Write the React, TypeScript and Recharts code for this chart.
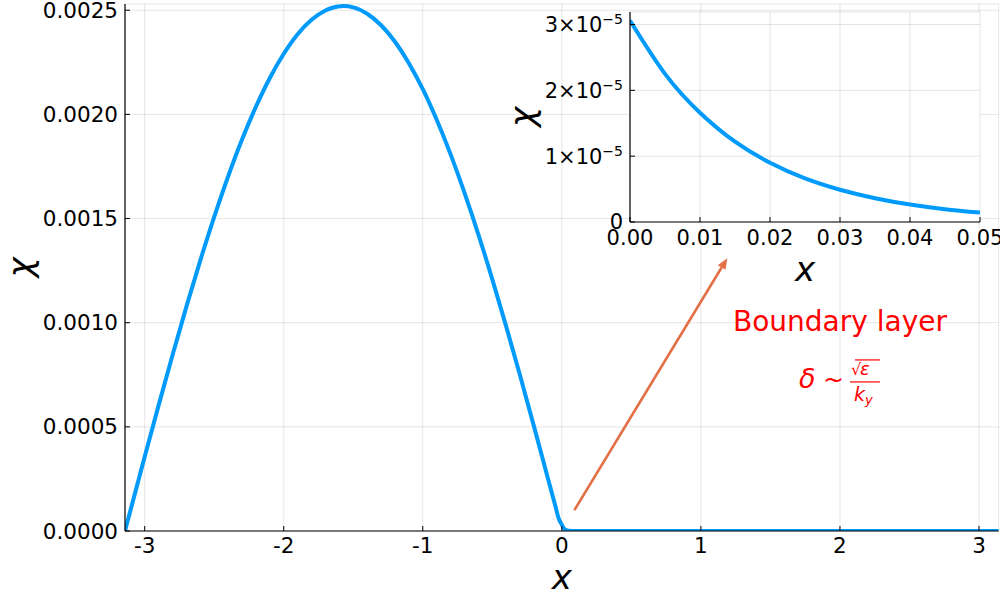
import React from 'react';
import { LineChart, Line, XAxis, YAxis, CartesianGrid, ReferenceLine, ReferenceDot, Label } from 'recharts';

// ---- main curve ----
const mainX = [-3.1416, -3.1, -3.0, -2.9, -2.8, -2.7, -2.6, -2.5, -2.4, -2.3, -2.2, -2.1, -2.0, -1.9, -1.8, -1.7, -1.65, -1.5708, -1.5, -1.4, -1.3, -1.2, -1.1, -1.0, -0.9, -0.8, -0.7, -0.6, -0.5, -0.4, -0.3, -0.2, -0.1, -0.05, -0.02, 0, 0.01, 0.02, 0.03, 0.05, 0.1, 0.5, 1.0, 1.5, 2.0, 2.5, 3.0, 3.1416];
const mainChi = [0, 0.000105, 0.000356, 0.000603, 0.000844, 0.001077, 0.001299, 0.001508, 0.001702, 0.001879, 0.002037, 0.002175, 0.002291, 0.002385, 0.002454, 0.002499, 0.002512, 0.00252, 0.002514, 0.002483, 0.002428, 0.002349, 0.002246, 0.002121, 0.001974, 0.001808, 0.001623, 0.001423, 0.001208, 0.000981, 0.000745, 0.000501, 0.000252, 0.000128, 0.000055, 0.0000305, 0.0000165, 0.0000089, 0.0000048, 0.0000014, 0.0000001, 0, 0, 0, 0, 0, 0, 0];
const mainXTicks = [-3, -2, -1, 0, 1, 2, 3];
const mainYTicks = [0, 0.0005, 0.001, 0.0015, 0.002, 0.0025];

// ---- inset curve ----
const insetX = [0, 0.005, 0.01, 0.015, 0.02, 0.025, 0.03, 0.035, 0.04, 0.045, 0.05];
const insetChi = [3.06e-5, 2.25e-5, 1.66e-5, 1.22e-5, 0.9e-5, 0.662e-5, 0.49e-5, 0.361e-5, 0.265e-5, 0.195e-5, 0.143e-5];
const insetXTicks = [0, 0.01, 0.02, 0.03, 0.04, 0.05];
const insetYTicks = [0, 1e-5, 2e-5, 3e-5];

// ---- annotations ----
const arrowStart = { x: 0.09, y: 0.0001 };
const arrowEnd = { x: 1.19, y: 0.00131 };
const annotationText = 'Boundary layer';
const annotationPos = { x: 2, y: 0.00101 };
const formulaPos = { x: 2, y: 0.00073 };

const mainData = mainX.map((x, i) => ({ x, chi: mainChi[i] }));
const insetData = insetX.map((x, i) => ({ x, chi: insetChi[i] }));

const FONT = "'DejaVu Sans', sans-serif";
const BLUE = '#009AFA';
const ORANGE = '#E26F46';
const GRID = '#000';

const MainYTick = (p: any) => (
  <text x={p.x} y={p.y} dy="0.355em" textAnchor="end" fontSize={21.5} fontFamily={FONT} fill="#000">
    {Number(p.payload.value).toFixed(4)}
  </text>
);
const MainXTick = (p: any) => (
  <text x={p.x} y={p.y} dy="0.71em" textAnchor="middle" fontSize={21.5} fontFamily={FONT} fill="#000">
    {String(p.payload.value)}
  </text>
);
const InsetXTick = (p: any) => (
  <text x={p.x} y={p.y} dy="0.71em" textAnchor="middle" fontSize={21} fontFamily={FONT} fill="#000">
    {Number(p.payload.value).toFixed(2)}
  </text>
);
const InsetYTick = (p: any) => {
  const v = Number(p.payload.value);
  const n = Math.round(v / 1e-5);
  if (n === 0) {
    return (
      <text x={p.x} y={p.y} dy="0.355em" textAnchor="end" fontSize={21} fontFamily={FONT} fill="#000">0</text>
    );
  }
  return (
    <text x={p.x} y={p.y} dy="0.355em" textAnchor="end" fontSize={21} fontFamily={FONT} fill="#000">
      {`${n}×10`}
      <tspan fontSize={14} dy="-0.55em">−5</tspan>
    </text>
  );
};

const ArrowShape = (p: any) => {
  const { x1, y1, x2, y2 } = p;
  if ([x1, y1, x2, y2].some((v) => typeof v !== 'number' || isNaN(v))) return <g />;
  const dx = x2 - x1;
  const dy = y2 - y1;
  const len = Math.sqrt(dx * dx + dy * dy);
  const ux = dx / len;
  const uy = dy / len;
  const hl = 11;
  const hw = 4.5;
  const bx = x2 - ux * hl;
  const by = y2 - uy * hl;
  const pts = `${x2},${y2} ${bx - uy * hw},${by + ux * hw} ${bx + uy * hw},${by - ux * hw}`;
  return (
    <g>
      <line x1={x1} y1={y1} x2={bx} y2={by} stroke={ORANGE} strokeWidth={2.6} />
      <polygon points={pts} fill={ORANGE} />
    </g>
  );
};

const BoundaryText = (p: any) => (
  <text x={p.cx} y={p.cy + 10} textAnchor="middle" fontSize={28} fontFamily={FONT} fill="#FF0000">
    {annotationText}
  </text>
);

const FormulaShape = (p: any) => {
  const cx = p.cx;
  const cy = p.cy;
  return (
    <g fill="#FF0000" fontFamily={FONT}>
      <text x={cx - 41} y={cy + 9} fontSize={27} fontStyle="italic">δ</text>
      <text x={cx - 17} y={cy + 9} fontSize={25}>~</text>
      <text x={cx + 11} y={cy - 4} fontSize={16}>√</text>
      <line x1={cx + 15} y1={cy - 19} x2={cx + 40} y2={cy - 19} stroke="#FF0000" strokeWidth={1.2} />
      <text x={cx + 20} y={cy - 4} fontSize={18} fontStyle="italic">ε</text>
      <line x1={cx + 10} y1={cy + 3} x2={cx + 40} y2={cy + 3} stroke="#FF0000" strokeWidth={1.2} />
      <text x={cx + 14} y={cy + 22} fontSize={19} fontStyle="italic">k</text>
      <text x={cx + 25} y={cy + 25} fontSize={13} fontStyle="italic">y</text>
    </g>
  );
};

const MainXLabel = (p: any) => {
  const vb = p.viewBox || { x: 125, y: 531, width: 873.7, height: 69 };
  return (
    <text x={vb.x + vb.width / 2} y={vb.y + 58} textAnchor="middle" fontSize={34} fontStyle="italic" fontFamily={FONT} fill="#000">x</text>
  );
};
const MainYLabel = (p: any) => {
  const vb = p.viewBox || { x: 0, y: 4, width: 125, height: 527 };
  const cx = vb.x + 20;
  const cy = vb.y + vb.height / 2;
  return (
    <text x={cx} y={cy} transform={`rotate(-90 ${cx} ${cy})`} textAnchor="middle" dominantBaseline="central" fontSize={34} fontStyle="italic" fontFamily={FONT} fill="#000">χ</text>
  );
};
const InsetXLabel = (p: any) => {
  const vb = p.viewBox || { x: 130, y: 222, width: 350, height: 78 };
  return (
    <text x={vb.x + vb.width / 2} y={vb.y + 59} textAnchor="middle" fontSize={34} fontStyle="italic" fontFamily={FONT} fill="#000">x</text>
  );
};
const InsetYLabel = (p: any) => {
  const vb = p.viewBox || { x: 0, y: 12, width: 130, height: 210 };
  const cx = vb.x + 22;
  const cy = vb.y + vb.height / 2;
  return (
    <text x={cx} y={cy} transform={`rotate(-90 ${cx} ${cy})`} textAnchor="middle" dominantBaseline="central" fontSize={34} fontStyle="italic" fontFamily={FONT} fill="#000">χ</text>
  );
};

export default function App() {
  return (
    <div style={{ position: 'absolute', left: 0, top: 0, width: 1000, height: 600, background: '#fff' }}>
      <LineChart width={1000} height={600} data={mainData} margin={{ top: 4, right: 1.3, bottom: 0, left: 0 }}>
        <CartesianGrid stroke={GRID} strokeOpacity={0.1} strokeWidth={1} />
        <XAxis
          dataKey="x"
          type="number"
          domain={[-Math.PI, Math.PI]}
          ticks={mainXTicks}
          interval={0}
          height={69}
          tickSize={-5}
          tickMargin={12}
          tick={<MainXTick />}
          axisLine={{ stroke: '#000', strokeWidth: 1.2 }}
          tickLine={{ stroke: '#000' }}
          allowDataOverflow
        >
          <Label content={<MainXLabel />} />
        </XAxis>
        <YAxis
          type="number"
          domain={[0, 0.00253]}
          ticks={mainYTicks}
          interval={0}
          width={125}
          tickSize={-5}
          tickMargin={12}
          tick={<MainYTick />}
          axisLine={{ stroke: '#000', strokeWidth: 1.2 }}
          tickLine={{ stroke: '#000' }}
          allowDataOverflow
        >
          <Label content={<MainYLabel />} />
        </YAxis>
        <Line type="monotone" dataKey="chi" stroke={BLUE} strokeWidth={4} dot={false} activeDot={false} isAnimationActive={false} />
        <ReferenceLine segment={[arrowStart, arrowEnd]} shape={ArrowShape} ifOverflow="visible" />
        <ReferenceDot x={annotationPos.x} y={annotationPos.y} r={1} shape={BoundaryText} ifOverflow="visible" />
        <ReferenceDot x={formulaPos.x} y={formulaPos.y} r={1} shape={FormulaShape} ifOverflow="visible" />
      </LineChart>
      <div style={{ position: 'absolute', left: 500, top: 0 }}>
        <LineChart width={500} height={300} data={insetData} margin={{ top: 12, right: 20, bottom: 0, left: 0 }}>
          <CartesianGrid stroke={GRID} strokeOpacity={0.1} strokeWidth={1} fill="#fff" fillOpacity={1} />
          <XAxis
            dataKey="x"
            type="number"
            domain={[0, 0.05]}
            ticks={insetXTicks}
            interval={0}
            height={78}
            tickSize={-5}
            tickMargin={13}
            tick={<InsetXTick />}
            axisLine={{ stroke: '#000', strokeWidth: 1.2 }}
            tickLine={{ stroke: '#000' }}
            allowDataOverflow
          >
            <Label content={<InsetXLabel />} />
          </XAxis>
          <YAxis
            type="number"
            domain={[0, 3.19e-5]}
            ticks={insetYTicks}
            interval={0}
            width={130}
            tickSize={-5}
            tickMargin={12}
            tick={<InsetYTick />}
            axisLine={{ stroke: '#000', strokeWidth: 1.2 }}
            tickLine={{ stroke: '#000' }}
            allowDataOverflow
          >
            <Label content={<InsetYLabel />} />
          </YAxis>
          <Line type="natural" dataKey="chi" stroke={BLUE} strokeWidth={4} dot={false} activeDot={false} isAnimationActive={false} />
        </LineChart>
      </div>
    </div>
  );
}
